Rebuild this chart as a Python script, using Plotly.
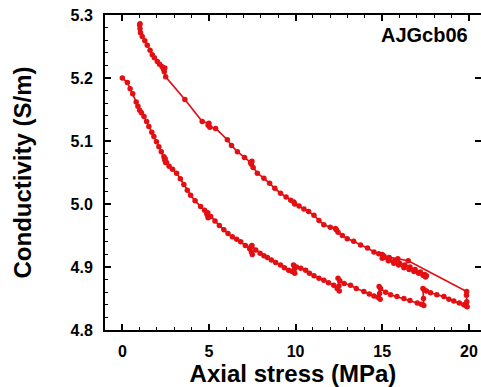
import plotly.graph_objects as go

# Loading branch (stress in MPa, conductivity in S/m)
loading_stress = [0.00, 0.29, 0.45, 0.60, 0.80, 0.90, 1.00, 1.10, 1.25, 1.40, 1.53, 1.70, 1.82, 1.97,
                  2.11, 2.25, 2.40, 2.45, 2.50, 2.47, 2.55, 2.70, 2.90, 3.13, 3.35, 3.55, 3.75, 3.94,
                  4.20, 4.52, 4.75, 4.90, 4.95, 4.88, 4.93, 5.10, 5.35, 5.60, 5.86, 6.10, 6.35, 6.60,
                  6.83, 7.10, 7.35, 7.45, 7.50, 7.42, 7.48, 7.70, 7.95, 8.17, 8.37, 8.60, 8.85, 9.13,
                  9.35, 9.60, 9.80, 9.95, 9.93, 9.88, 10.05, 10.30, 10.58, 10.80, 11.06, 11.35, 11.63,
                  11.90, 12.20, 12.40, 12.52, 12.50, 12.45, 12.55, 12.80, 13.17, 13.50, 13.94, 14.25,
                  14.52, 14.75, 14.88, 14.85, 14.82, 14.90, 15.20, 15.48, 15.85, 16.25, 16.60, 17.02,
                  17.25, 17.40, 17.38, 17.35, 17.42, 17.55, 17.79, 18.15, 18.56, 18.85, 19.13, 19.45,
                  19.71, 19.85, 19.90, 19.88, 19.86, 19.87]
loading_cond = [5.200, 5.193, 5.183, 5.175, 5.162, 5.155, 5.149, 5.145, 5.139, 5.131, 5.123, 5.114, 5.107, 5.099,
                5.091, 5.083, 5.075, 5.070, 5.066, 5.072, 5.066, 5.060, 5.055, 5.049, 5.040, 5.031, 5.022, 5.014,
                5.005, 4.996, 4.990, 4.983, 4.978, 4.985, 4.986, 4.980, 4.973, 4.966, 4.959, 4.953, 4.948, 4.944,
                4.940, 4.934, 4.929, 4.924, 4.920, 4.932, 4.934, 4.927, 4.922, 4.918, 4.915, 4.911, 4.907, 4.903,
                4.899, 4.895, 4.893, 4.890, 4.897, 4.903, 4.900, 4.898, 4.895, 4.890, 4.886, 4.882, 4.879,
                4.875, 4.871, 4.866, 4.862, 4.870, 4.882, 4.878, 4.874, 4.871, 4.866, 4.861, 4.857,
                4.854, 4.852, 4.849, 4.858, 4.869, 4.866, 4.860, 4.856, 4.853, 4.850, 4.847, 4.843,
                4.841, 4.839, 4.850, 4.866, 4.864, 4.862, 4.859, 4.856, 4.853, 4.849, 4.846, 4.843,
                4.840, 4.838, 4.837, 4.845, 4.855, 4.861]

# Unloading branch
unloading_stress = [16.50, 15.90, 15.40, 15.10, 15.00, 15.05, 15.35, 15.67, 15.95, 16.25, 16.55, 16.83,
                    17.10, 17.35, 17.50, 17.55, 17.45, 17.20, 16.90, 16.60, 16.30, 16.00, 15.70, 15.40,
                    15.10, 15.00, 14.80, 14.52, 14.15, 13.75, 13.35, 12.98, 12.70, 12.45, 12.35, 12.30,
                    12.00, 11.63, 11.35, 11.06, 10.75, 10.48, 10.20, 9.95, 9.90, 9.72, 9.45, 9.13, 8.80,
                    8.50, 8.17, 7.79, 7.55, 7.45, 7.48, 7.40, 7.05, 6.64, 6.30, 6.06, 5.38, 5.05, 4.95,
                    5.00, 4.61, 3.61, 2.50, 2.42, 2.38, 2.45, 2.30, 2.15, 2.02, 1.85, 1.73, 1.60, 1.44,
                    1.30, 1.15, 1.05, 1.02, 1.00, 1.02]
unloading_cond = [4.910, 4.913, 4.915, 4.917, 4.914, 4.918, 4.910, 4.906, 4.903, 4.899, 4.896, 4.893,
                  4.890, 4.887, 4.884, 4.886, 4.888, 4.892, 4.896, 4.900, 4.903, 4.906, 4.909, 4.913,
                  4.915, 4.920, 4.921, 4.924, 4.930, 4.935, 4.941, 4.945, 4.950, 4.955, 4.959, 4.961,
                  4.963, 4.967, 4.974, 4.982, 4.988, 4.992, 4.997, 5.000, 5.003, 5.006, 5.011, 5.017, 5.025,
                  5.033, 5.041, 5.049, 5.058, 5.063, 5.068, 5.066, 5.074, 5.083, 5.093, 5.102, 5.120, 5.122, 5.125,
                  5.128, 5.131, 5.166, 5.202, 5.210, 5.214, 5.216, 5.218, 5.222, 5.226, 5.232, 5.237, 5.244, 5.252,
                  5.259, 5.266, 5.272, 5.278, 5.284, 5.286]

x_ticks = [0, 5, 10, 15, 20]
y_ticks = [4.8, 4.9, 5.0, 5.1, 5.2, 5.3]
y_tick_labels = ["4.8", "4.9", "5.0", "5.1", "5.2", "5.3"]

RED = "#e30f12"
FONT = "Liberation Sans, Arial, sans-serif"

stress = loading_stress + unloading_stress
cond = loading_cond + unloading_cond

fig = go.Figure()
fig.add_trace(go.Scatter(
    x=stress, y=cond, mode="lines+markers",
    line=dict(color=RED, width=1.7),
    marker=dict(color=RED, size=5.5),
    showlegend=False, hoverinfo="skip",
))
# helper trace so the right-hand tick axis renders
fig.add_trace(go.Scatter(x=[], y=[], yaxis="y2", showlegend=False))

fig.update_layout(
    width=481, height=387,
    margin=dict(l=105, r=0, t=15, b=57),
    paper_bgcolor="white", plot_bgcolor="white",
    font=dict(family=FONT, color="black"),
    xaxis=dict(
        range=[-1, 20.70], tickvals=x_ticks, ticks="inside", ticklen=6, tickwidth=1.5,
        tickcolor="black", showline=True, linecolor="black", linewidth=2, mirror="ticks",
        showgrid=False, zeroline=False,
        minor=dict(dtick=1, ticks="inside", ticklen=3, tickwidth=1.2, tickcolor="black", showgrid=False),
        tickfont=dict(size=16, family=FONT, weight="bold"),
        ticklabelstandoff=6,
        title=dict(text="Axial stress (MPa)", font=dict(size=24, family=FONT, weight="bold"), standoff=4),
    ),
    yaxis=dict(
        range=[4.8, 5.3], tickvals=y_ticks, ticktext=y_tick_labels, ticks="inside", ticklen=6,
        tickwidth=1.5, tickcolor="black", showline=True, linecolor="black", linewidth=2, mirror=False,
        showgrid=False, zeroline=False,
        minor=dict(dtick=0.02, tick0=4.8, ticks="inside", ticklen=3, tickwidth=1.2, tickcolor="black",
                   showgrid=False),
        tickfont=dict(size=16, family=FONT, weight="bold"),
        ticklabelstandoff=7,
        title=dict(text="Conductivity (S/m)", font=dict(size=24, family=FONT, weight="bold"), standoff=32),
    ),
    yaxis2=dict(
        range=[4.8, 5.3], overlaying="y", side="right", tickvals=y_ticks, ticks="inside", ticklen=6,
        tickwidth=1.5, tickcolor="black", showticklabels=False, showline=False, showgrid=False,
        zeroline=False,
    ),
    annotations=[dict(
        text="AJGcb06", xref="paper", yref="paper", x=0.97, y=0.935, xanchor="right", yanchor="middle",
        showarrow=False, font=dict(size=20, family=FONT, weight="bold", color="black"),
    )],
)

fig.write_html("out.html")
